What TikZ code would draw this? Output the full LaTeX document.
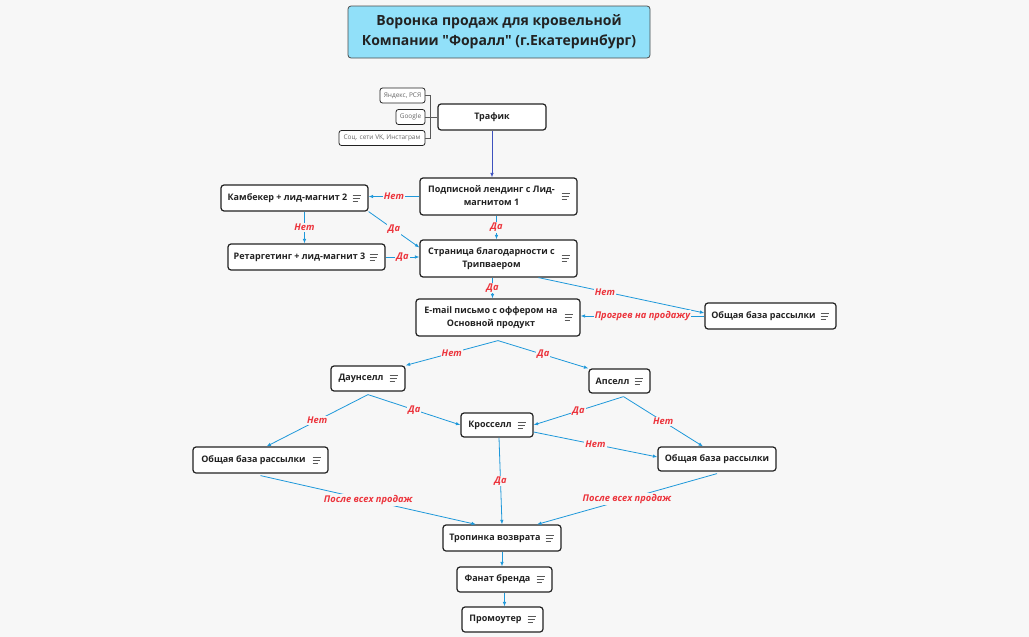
\documentclass[tikz,border=0pt]{standalone}
\usepackage{fontspec}
\setmainfont{Open Sans}[Ligatures=TeXOff]
\usetikzlibrary{arrows.meta}
\usetikzlibrary{positioning}

\definecolor{bgcol}{RGB}{247,247,247}
\definecolor{titlecol}{RGB}{145,224,249}
\definecolor{linkblue}{RGB}{30,152,218}
\definecolor{trafblue}{RGB}{62,82,190}
\definecolor{lblred}{RGB}{236,52,60}
\definecolor{inkcol}{RGB}{34,34,34}

\tikzset{topic/.style = {draw=inkcol, fill=white, rounded corners=3pt, line width=1.2pt,
                         text=inkcol, inner sep=2pt,
                         font=\fontsize{9}{13}\selectfont\bfseries}}
\tikzset{source/.style = {draw=inkcol, fill=white, rounded corners=2.5pt, line width=0.8pt,
                          text=black!60, inner sep=1pt, minimum height=15,
                          font=\fontsize{6.5}{7.5}\selectfont}}
\tikzset{link/.style = {draw=linkblue, line width=0.8pt,
                        -{Latex[length=4.5pt,width=3.5pt]}}}
\tikzset{lbl/.style = {fill=bgcol, inner sep=1pt, text=lblred,
                       font=\fontsize{9.3}{10}\selectfont\bfseries\itshape}}
\tikzset{bracket/.style = {draw=black!65, line width=0.6pt}}
\tikzset{menulines/.pic = {
  \draw [black!65, line width=0.8pt] (-4,-3) -- (4,-3) (-4,0) -- (3,0) (-4,3) -- (1,3);}}

\newcommand{\notegap}{\rule{14pt}{0pt}}
\newcommand{\twoline}[2]{\begin{tabular}{@{}c@{}}#1\\#2\end{tabular}}

\begin{document}
\begin{tikzpicture}[x=1pt, y=-1pt]
  \fill [bgcol] (0, 0) rectangle (1029, 637);
  \useasboundingbox (0, 0) rectangle (1029, 637);

  % title
  \node (title) [draw=black!70, fill=titlecol, rounded corners=3pt, line width=0.8pt,
                 minimum width=302, minimum height=52, align=center, text=inkcol,
                 font=\fontsize{14}{20}\selectfont\bfseries] at (499, 32)
        {Воронка продаж для кровельной\\Компании "Форалл" (г.Екатеринбург)};

  % traffic and sources
  \node (traffic) [topic, minimum width=108, minimum height=26] at (492, 117) {Трафик};
  \node (yandex) [source, minimum width=45] at (402.5, 95.5) {Яндекс, РСЯ};
  \node (google) [source, minimum width=29] at (410.5, 117) {Google};
  \node (social) [source, minimum width=86] at (382, 138) {Соц. сети VK, Инстаграм};

  % funnel steps
  \node (landing) [topic, minimum width=157, minimum height=37] at (498.5, 196.5)
        {\twoline{Подписной лендинг с Лид-}{магнитом 1}\notegap};
  \node (comeback) [topic, minimum width=147, minimum height=26] at (294.5, 198)
        {Камбекер + лид-магнит 2\notegap};
  \node (retarget) [topic, minimum width=157, minimum height=26] at (306.5, 257)
        {Ретаргетинг + лид-магнит 3\notegap};
  \node (thanks) [topic, minimum width=157, minimum height=37] at (498.5, 258.5)
        {\twoline{Страница благодарности с}{Трипваером}\notegap};
  \node (email) [topic, minimum width=164, minimum height=37] at (498, 317.5)
        {\twoline{E-mail письмо с оффером на}{Основной продукт}\notegap};
  \node (baseA) [topic, minimum width=131, minimum height=26] at (770.5, 316)
        {Общая база рассылки\notegap};
  \node (downsell) [topic, minimum width=74, minimum height=25] at (368, 378.5)
        {Даунселл\notegap};
  \node (upsell) [topic, minimum width=61, minimum height=24] at (619.5, 381)
        {Апселл\notegap};
  \node (crosssell) [topic, minimum width=72, minimum height=24] at (497, 425)
        {Кросселл\notegap};
  \node (baseB) [topic, minimum width=135, minimum height=26] at (260.5, 460)
        {Общая база рассылки\notegap};
  \node (baseC) [topic, minimum width=118, minimum height=24] at (717, 459)
        {Общая база рассылки};
  \node (backpath) [topic, minimum width=118, minimum height=26] at (502, 538)
        {Тропинка возврата\notegap};
  \node (fan) [topic, minimum width=95, minimum height=25] at (504.5, 579.5)
        {Фанат бренда\notegap};
  \node (promoter) [topic, minimum width=81, minimum height=25] at (502.5, 619.5)
        {Промоутер\notegap};

  \foreach \n in {landing, comeback, retarget, thanks, email, baseA, downsell,
                  upsell, crosssell, baseB, backpath, fan, promoter} {
    \pic at ([xshift=-12pt]\n.east) {menulines};
  }

  % fork points
  \coordinate (emailfork) at ([yshift=-4pt]email.south);
  \coordinate (downfork) at ([yshift=-3pt]downsell.south);
  \coordinate (upfork) at ([xshift=4pt, yshift=-3pt]upsell.south);

  % connectors
  \draw [bracket] (yandex.east) -- ++(5, 0) |- (social.east);
  \draw [bracket] (google.east) -- (traffic.west);
  \draw [link, draw=trafblue] (traffic.south) -- (traffic.south |- landing.north);

  \draw [link] (landing.west) -- node [lbl] {Нет} (landing.west -| comeback.east);
  \draw [link] ([xshift=-2pt]landing.south) -- node [lbl] {Да} ([xshift=-2pt]landing.south |- thanks.north);
  \draw [link] (comeback.south east) -- node [lbl] {Да} ([yshift=11pt]thanks.west);
  \draw [link] ([xshift=10pt]comeback.south) -- node [lbl] {Нет} ([xshift=10pt]comeback.south |- retarget.north);
  \draw [link] (retarget.east) -- node [lbl] {Да} (retarget.east -| thanks.west);
  \draw [link] ([xshift=-6pt]thanks.south) -- node [lbl] {Да} ([xshift=-6pt]thanks.south |- email.north);
  \draw [link] ([xshift=40pt]thanks.south) -- node [lbl, pos=0.4] {Нет} ([yshift=3pt]baseA.west);
  \draw [link] (baseA.west) -- node [lbl] {Прогрев на продажу} (baseA.west -| email.east);

  \draw [link] (emailfork) -- node [lbl] {Нет} (downsell.north east);
  \draw [link] (emailfork) -- node [lbl] {Да} (upsell.north west);
  \draw [link] (downfork) -- node [lbl] {Нет} ([xshift=6pt]baseB.north);
  \draw [link] (downfork) -- node [lbl] {Да} (crosssell.west);
  \draw [link] (upfork) -- node [lbl] {Да} (crosssell.east);
  \draw [link] (upfork) -- node [lbl] {Нет} ([xshift=-14pt]baseC.north);
  \draw [link] ([yshift=-7pt]crosssell.east) -- node [lbl] {Нет} ([yshift=2pt]baseC.west);
  \draw [link] ([xshift=2pt]crosssell.south) -- node [lbl] {Да} (backpath.north);

  \draw [link] ([yshift=-2pt]baseB.south) -- node [lbl] {После всех продаж} ([xshift=-26pt]backpath.north);
  \draw [link] ([yshift=-2pt]baseC.south) -- node [lbl] {После всех продаж} ([xshift=35pt]backpath.north);
  \draw [link] (backpath.south) -- (backpath.south |- fan.north);
  \draw [link] (fan.south) -- (fan.south |- promoter.north);

\end{tikzpicture}
\end{document}
